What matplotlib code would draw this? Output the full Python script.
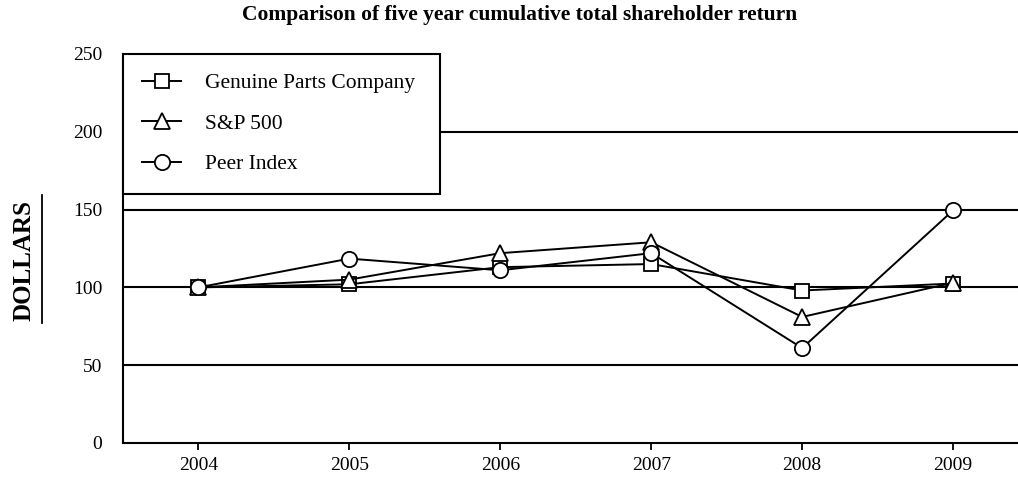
import matplotlib
matplotlib.use("Agg")
import matplotlib.pyplot as plt
from matplotlib.patches import Rectangle
from matplotlib.lines import Line2D

# data
years = [2004, 2005, 2006, 2007, 2008, 2009]
gpc = [100, 102, 113, 115, 98, 102.5]
sp500 = [100, 105, 122, 129, 81, 103]
peer = [100, 118.5, 111, 122, 61, 149.5]
yticks = [0, 50, 100, 150, 200, 250]

plt.rcParams['font.family'] = ['Liberation Serif', 'DejaVu Serif']

fig = plt.figure(figsize=(10.18, 4.8), dpi=100)
ax = fig.add_axes([0.1208, 0.0771, 0.8792, 0.8104])

for y in [50, 100, 150, 200]:
    ax.axhline(y, color='black', lw=1.5, zorder=1)

style = dict(color='black', lw=1.4, markerfacecolor='white', markeredgecolor='black',
             markeredgewidth=1.3, zorder=5)
ax.plot(years, gpc, marker='s', markersize=10, label='Genuine Parts Company', **style)
ax.plot(years, sp500, marker='^', markersize=11, label='S&P 500', **style)
ax.plot(years, peer, marker='o', markersize=11, label='Peer Index', **style)

ax.set_xlim(2003.5, 2009.43)
ax.set_ylim(0, 250)
ax.set_xticks(years)
ax.set_yticks(yticks)
ax.tick_params(axis='y', length=0, pad=15, labelsize=14)
ax.tick_params(axis='x', length=5, width=1.3, direction='out', pad=5, labelsize=14)
for s in ['top', 'right']:
    ax.spines[s].set_visible(False)
for s in ['left', 'bottom']:
    ax.spines[s].set_linewidth(1.5)

# legend box
box = Rectangle((2003.5, 160), (440 - 123) / 895 * (2009.43 - 2003.5), 90,
                transform=ax.transData, facecolor='white', edgecolor='black',
                lw=1.5, zorder=3, clip_on=False)
ax.add_patch(box)
leg = ax.legend(loc='upper left', bbox_to_anchor=(0.0, 1.0), frameon=False,
                fontsize=15.5, handlelength=1.8, labelspacing=0.95, handletextpad=1.1,
                borderpad=0.6, borderaxespad=0.3)
leg.set_zorder(6)

fig.text(0.51, 0.969, 'Comparison of five year cumulative total shareholder return',
         ha='center', va='center', fontsize=15.5, fontweight='bold')
fig.text(0.024, 0.458, 'DOLLARS', rotation=90, ha='center', va='center',
         fontsize=18, fontweight='bold')
fig.add_artist(Line2D([0.0413, 0.0413], [0.327, 0.594], color='black', lw=1.3,
                      transform=fig.transFigure))

fig.savefig('out.png', dpi=100)
